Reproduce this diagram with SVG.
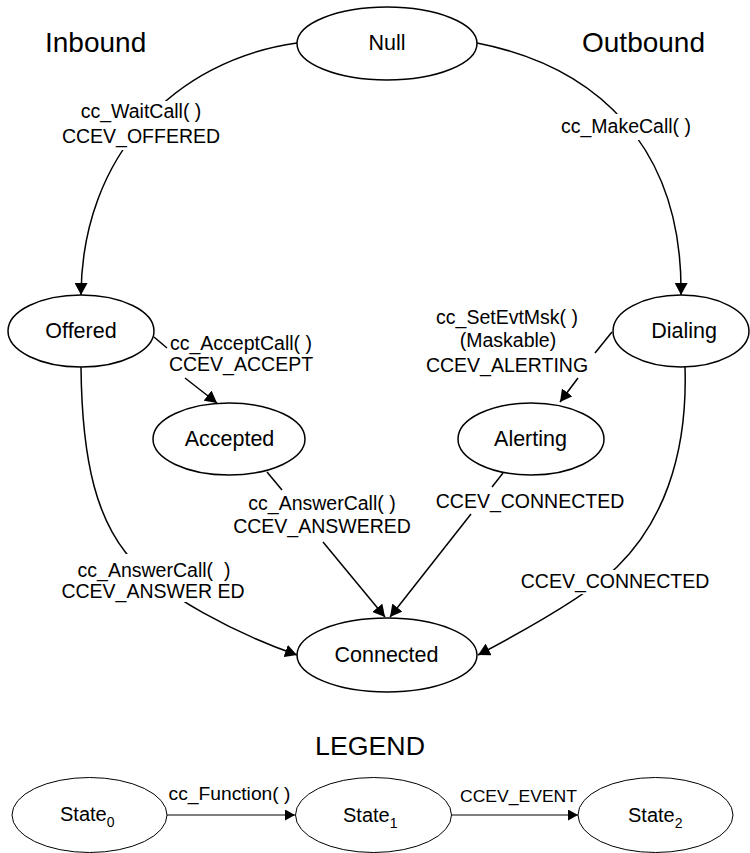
<svg xmlns="http://www.w3.org/2000/svg" width="750" height="853" viewBox="0 0 750 853">
<style>
  text { font-family: "Liberation Sans", Arial, sans-serif; fill: #000; }
  .node { fill: #fff; stroke: #000; stroke-width: 1.5; }
  .lnode { fill: #fff; stroke: #000; stroke-width: 1; }
  .nt { font-size: 21.5px; text-anchor: middle; }
  .lbl { font-size: 19.5px; text-anchor: middle; }
  .head { font-size: 28px; }
  .edge { fill: none; stroke: #000; stroke-width: 1.5; marker-end: url(#arrow); }
  .ledge { fill: none; stroke: #000; stroke-width: 1.2; marker-end: url(#larrow); }
  .bg { fill: #fff; stroke: none; }
</style>
<defs>
  <marker id="arrow" markerUnits="userSpaceOnUse" markerWidth="13" markerHeight="13" refX="12" refY="6.5" orient="auto">
    <path d="M0,0 L12,6.5 L0,13 z" fill="#000"/>
  </marker>
  <marker id="larrow" markerUnits="userSpaceOnUse" markerWidth="11" markerHeight="11" refX="10" refY="5.5" orient="auto">
    <path d="M0,0 L10,5.5 L0,11 z" fill="#000"/>
  </marker>
</defs>
<rect width="750" height="853" fill="#fff"/>

<text class="head" x="45" y="52">Inbound</text>
<text class="head" x="582" y="52">Outbound</text>

<g id="connectors">
  <path class="edge" d="M297,43 C175,60 82,155 81,295"/>
  <path class="edge" d="M477,43 C595,66 683,145 681,295"/>
  <path d="M154,337 L167,348" fill="none" stroke="#000" stroke-width="1.5"/>
  <path class="edge" d="M185,378 L217,403"/>
  <path d="M612,332 L595,353" fill="none" stroke="#000" stroke-width="1.5"/>
  <path class="edge" d="M578,378 L560,402"/>
  <path class="edge" d="M81,367 C82,470 100,520 126,553 C160,596 240,635 297,655"/>
  <path d="M267,472 L282,490" fill="none" stroke="#000" stroke-width="1.5"/>
  <path class="edge" d="M323,542 L385,617"/>
  <path d="M503,473 L492,487" fill="none" stroke="#000" stroke-width="1.5"/>
  <path class="edge" d="M471,514 L390,617"/>
  <path class="edge" d="M685,367 C688,460 660,525 617,567 C590,593 535,625 478,655"/>
  <path class="ledge" d="M167,815 L295,815"/>
  <path class="ledge" d="M452,815 L578,815"/>
</g>

<g id="labels">
  <rect class="bg" x="60" y="101" width="162" height="49"/>
  <text class="lbl" x="141" y="118">cc_WaitCall( )</text>
  <text class="lbl" x="141" y="143">CCEV_OFFERED</text>

  <rect class="bg" x="558" y="114" width="136" height="26"/>
  <text class="lbl" x="626" y="133">cc_MakeCall( )</text>

  <text class="lbl" x="241" y="350">cc_AcceptCall( )</text>
  <text class="lbl" x="241" y="371">CCEV_ACCEPT</text>

  <text class="lbl" x="507" y="324">cc_SetEvtMsk( )</text>
  <text class="lbl" x="508" y="347">(Maskable)</text>
  <text class="lbl" x="507" y="372">CCEV_ALERTING</text>

  <text class="lbl" x="322" y="510">cc_AnswerCall( )</text>
  <text class="lbl" x="322" y="533">CCEV_ANSWERED</text>

  <text class="lbl" x="530" y="508">CCEV_CONNECTED</text>

  <rect class="bg" x="58" y="554" width="190" height="48"/>
  <text class="lbl" x="154" y="577" xml:space="preserve">cc_AnswerCall(  )</text>
  <text class="lbl" x="153" y="598">CCEV_ANSWER ED</text>

  <rect class="bg" x="518" y="570" width="194" height="24"/>
  <text class="lbl" x="615" y="588">CCEV_CONNECTED</text>

  <text x="229.5" y="800" font-size="18" text-anchor="middle" textLength="122" lengthAdjust="spacingAndGlyphs">cc_Function( )</text>
  <text x="518.5" y="802" font-size="17" text-anchor="middle" textLength="117" lengthAdjust="spacingAndGlyphs">CCEV_EVENT</text>
</g>

<g id="null">
  <ellipse class="node" cx="387" cy="43.5" rx="90" ry="36.5"/>
  <text class="nt" x="387" y="50">Null</text>
</g>
<g id="offered">
  <ellipse class="node" cx="81" cy="331" rx="73" ry="36"/>
  <text class="nt" x="81" y="338">Offered</text>
</g>
<g id="accepted">
  <ellipse class="node" cx="229" cy="439" rx="76" ry="36"/>
  <text class="nt" x="229.5" y="446">Accepted</text>
</g>
<g id="dialing">
  <ellipse class="node" cx="681" cy="331" rx="68" ry="36"/>
  <text class="nt" x="684" y="338">Dialing</text>
</g>
<g id="alerting">
  <ellipse class="node" cx="531" cy="439" rx="73" ry="36"/>
  <text class="nt" x="530.5" y="446">Alerting</text>
</g>
<g id="connected">
  <ellipse class="node" cx="387" cy="655" rx="90" ry="37"/>
  <text class="nt" x="386.5" y="662">Connected</text>
</g>

<text x="370" y="755" font-size="26" text-anchor="middle" textLength="110" lengthAdjust="spacingAndGlyphs">LEGEND</text>

<g id="state0">
  <ellipse class="lnode" cx="89.5" cy="815" rx="77.5" ry="37.5"/>
  <text x="60" y="821" font-size="20">State<tspan font-size="14" dy="6">0</tspan></text>
</g>
<g id="state1">
  <ellipse class="lnode" cx="373.5" cy="815" rx="78" ry="37.5"/>
  <text x="343" y="822" font-size="20">State<tspan font-size="14" dy="6">1</tspan></text>
</g>
<g id="state2">
  <ellipse class="lnode" cx="655.5" cy="815" rx="77.5" ry="37.5"/>
  <text x="628" y="822" font-size="20">State<tspan font-size="14" dy="6">2</tspan></text>
</g>
</svg>
